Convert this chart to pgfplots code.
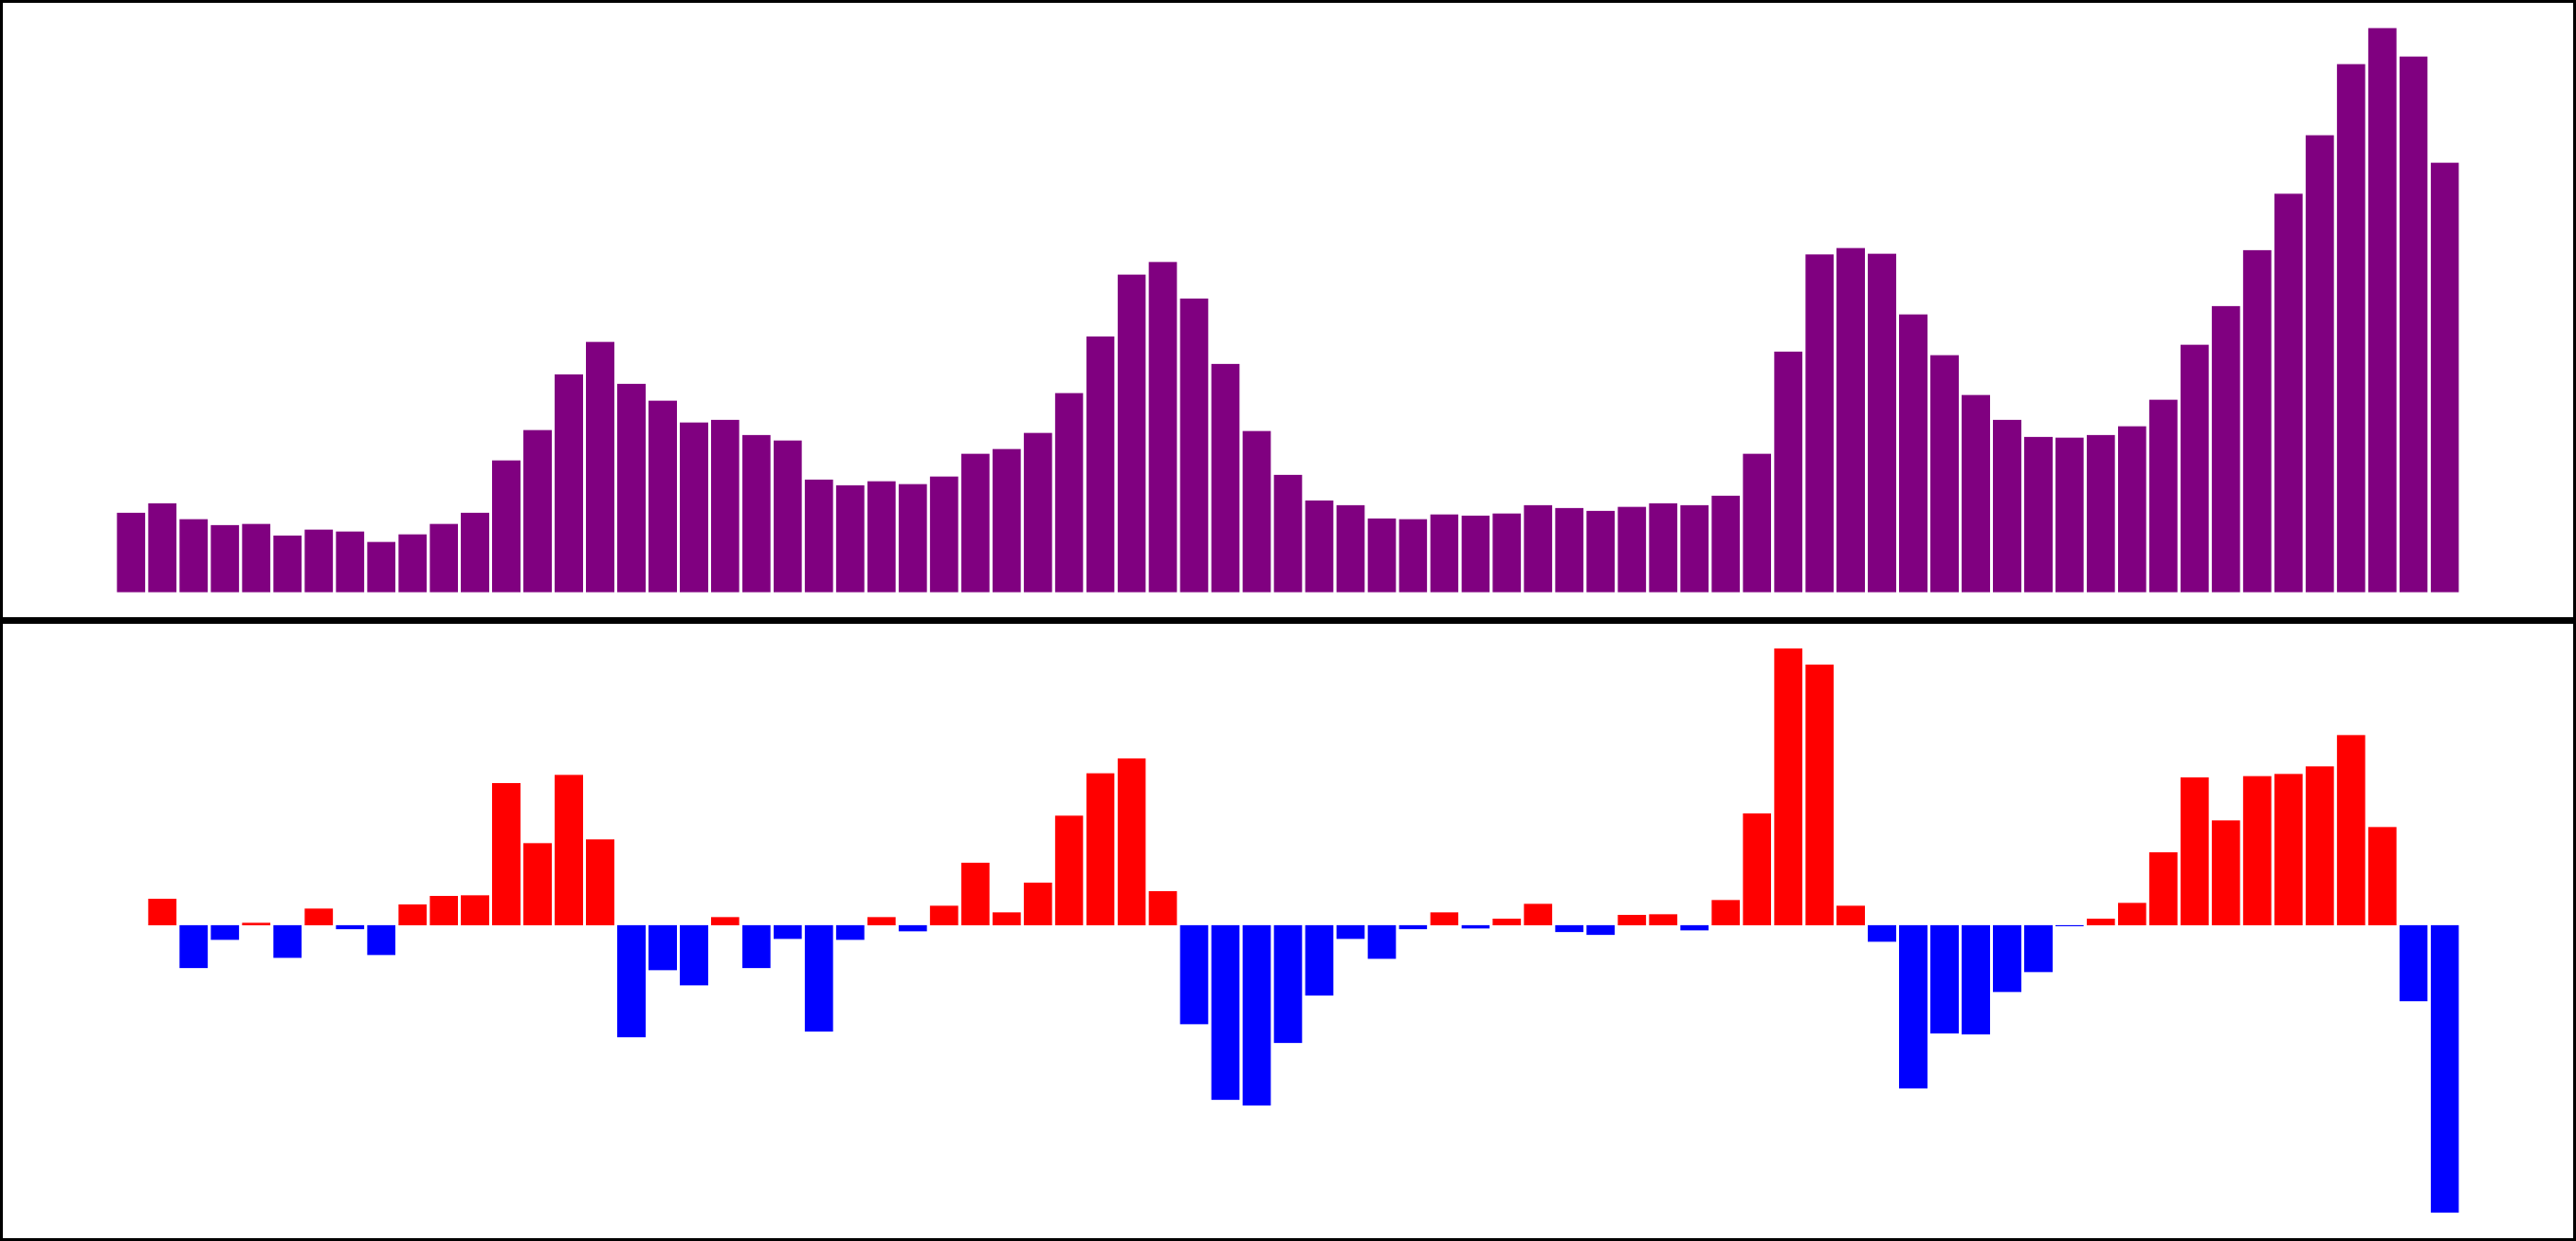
\documentclass[border=0pt]{standalone}
\usepackage{pgfplots}
\pgfplotsset{compat=1.18}
\definecolor{mpurple}{HTML}{800080}
\definecolor{mred}{HTML}{FF0000}
\definecolor{mblue}{HTML}{0000FF}
\begin{document}
\begin{tikzpicture}
\pgfplotsset{
  panel/.style={
    scale only axis, width=400pt, height=96.35pt,
    xmin=-4.195, xmax=78.195,
    xtick=\empty, ytick=\empty,
    axis line style={line width=1pt, black},
    ybar, bar width=0.9, bar shift=0pt,
  }
}
\begin{axis}[panel, at={(0pt,96.35pt)}, anchor=south west, ymin=-70.65, ymax=1483.65]
\addplot[fill=mpurple, draw=none] coordinates {
(0,199)(1,223)(2,183)(3,168)(4,171)(5,142)(6,157)(7,152)(8,126)(9,145)
(10,171)(11,199)(12,330)(13,406)(14,546)(15,627)(16,522)(17,480)(18,425)(19,432)
(20,394)(21,380)(22,282)(23,268)(24,278)(25,271)(26,290)(27,347)(28,359)(29,399)
(30,499)(31,641)(32,796)(33,827)(34,736)(35,572)(36,404)(37,294)(38,230)(39,218)
(40,185)(41,183)(42,195)(43,192)(44,197)(45,218)(46,211)(47,204)(48,214)(49,223)
(50,218)(51,242)(52,347)(53,603)(54,846)(55,862)(56,848)(57,696)(58,594)(59,494)
(60,432)(61,389)(62,387)(63,394)(64,416)(65,482)(66,620)(67,717)(68,857)(69,998)
(70,1145)(71,1323)(72,1413)(73,1342)(74,1076)
};
\end{axis}
\begin{axis}[panel, at={(0pt,0pt)}, anchor=south west, ymin=-780.75, ymax=753.75]
\addplot[fill=mred, draw=none] coordinates {
(1,65)(4,6)(6,41)(9,51)(10,72)(11,74)(12,351)(13,203)(14,372)(15,212)
(19,20)(24,20)(26,48)(27,154)(28,32)(29,105)(30,271)(31,376)(32,412)(33,84)
(42,32)(44,16)(45,53)(48,25)(49,27)(51,62)(52,276)(53,684)(54,644)(55,48)
(63,16)(64,55)(65,180)(66,365)(67,259)(68,369)(69,374)(70,393)(71,470)(72,243)
};
\addplot[fill=mblue, draw=none] coordinates {
(2,-106)(3,-36)(5,-81)(7,-10)(8,-74)(16,-277)(17,-111)(18,-149)(20,-106)(21,-34)
(22,-263)(23,-36)(25,-15)(34,-245)(35,-432)(36,-446)(37,-291)(38,-174)(39,-34)(40,-83)
(41,-10)(43,-8)(46,-17)(47,-24)(50,-13)(56,-41)(57,-404)(58,-268)(59,-270)(60,-165)
(61,-116)(62,-2)(73,-188)(74,-711)
};
\end{axis}
\pgfresetboundingbox
\useasboundingbox (0pt,0pt) rectangle (400pt,192.7pt);
\end{tikzpicture}
\end{document}
